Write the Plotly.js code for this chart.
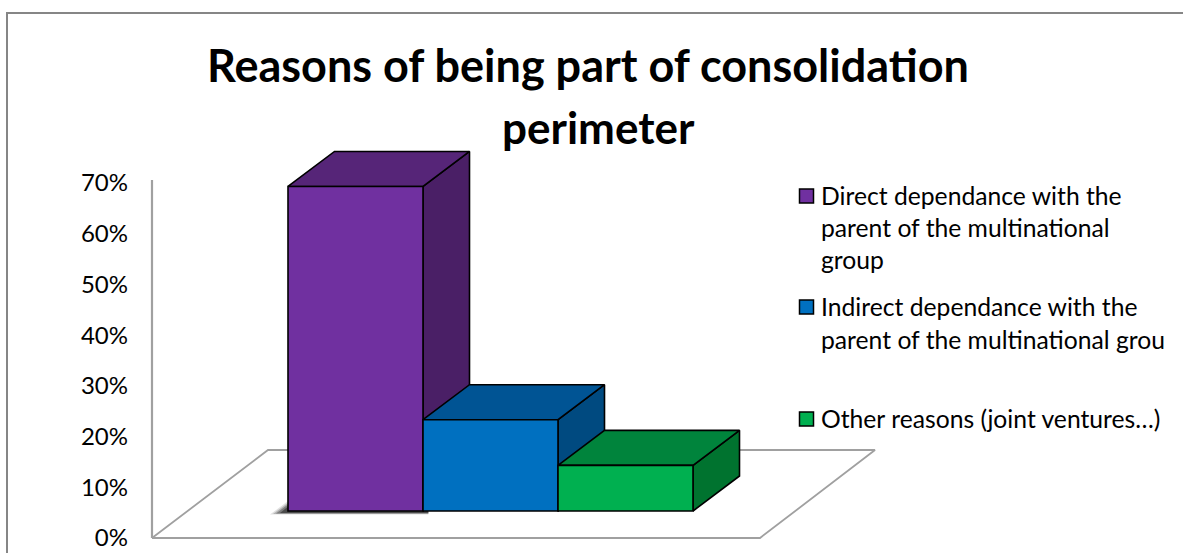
<!DOCTYPE html>
<html><head><meta charset="utf-8">
<script src="https://cdn.plot.ly/plotly-3.0.1.min.js"></script>
<style>html,body{margin:0;padding:0;background:#fff}#c{width:1183px;height:553px}</style>
</head><body><div id="c"></div>
<script>
const categories = ['Direct dependance with the parent of the multinational group','Indirect dependance with the parent of the multinational grou','Other reasons (joint ventures…)'];
const values = [64, 18, 9];
const frontColors = ['#7030A0','#0070C0','#00B050'];
const topColors = ['#562578','#005494','#00843C'];
const sideColors = ['#4A1F66','#004A80','#00732F'];
const tickVals = [0,10,20,30,40,50,60,70];
const tickText = ['0%','10%','20%','30%','40%','50%','60%','70%'];
const legendLines = [['Direct dependance with the','parent of the multinational','group'],['Indirect dependance with the','parent of the multinational grou'],['Other reasons (joint ventures…)']];
const legendLineY = [[195.5,227.5,259.5],[306.5,339.5],[418.5]];
const legendSwatchY = [196,307,419];

const W=1183,H=553;
const pxPerCat=135, pxPerPct=355/70;
const xRange=[-355.5/pxPerCat,(W-355.5)/pxPerCat];
const yRange=[-(H-538)/pxPerPct,538/pxPerPct];
const base=27/pxPerPct, dx=46.5/pxPerCat, dy=35/pxPerPct;
const hw=0.5;
const floorX=[(152-355.5)/pxPerCat,(760-355.5)/pxPerCat,(875-355.5)/pxPerCat,(268-355.5)/pxPerCat,(152-355.5)/pxPerCat];
const floorY=[0,0,88/pxPerPct,88/pxPerPct,0];
const wallX=(152-355.5)/pxPerCat;

const traces=[];
const poly=(x,y,color,lc)=>({type:'scatter',mode:'lines',x,y,fill:'toself',fillcolor:color,line:{color:lc||'#000',width:1.6},hoverinfo:'skip',showlegend:false,xaxis:'x',yaxis:'y'});
traces.push({type:'scatter',mode:'lines',x:floorX,y:floorY,line:{color:'#A0A0A0',width:1.8},hoverinfo:'skip',showlegend:false});
traces.push({type:'scatter',mode:'lines',x:[wallX,wallX],y:[0,70.6],line:{color:'#A0A0A0',width:2.2},hoverinfo:'skip',showlegend:false});
// soft shadow at the foot of the first bar
const shadow=(x,y,o)=>traces.push({type:'scatter',mode:'lines',x,y,fill:'toself',fillcolor:`rgba(0,0,0,${o})`,line:{width:0},hoverinfo:'skip',showlegend:false});
[[18,3.5,0.12],[15,3,0.2],[12,2.5,0.3],[8,2,0.4]].forEach(([w,d,o])=>{
  const l=-hw-w/pxPerCat, by=base-d/pxPerPct;
  shadow([l,hw+0.04,hw+0.04,-hw,l],[by,by,base,base+w*0.55/pxPerPct,by],o);
});
values.forEach((v,i)=>{
  const l=i-hw,r=i+hw,t=base+v,b=base;
  traces.push(poly([r,r+dx,r+dx,r,r],[b,b+dy,t+dy,t,b],sideColors[i]));
  traces.push(poly([l,r,r+dx,l+dx,l],[t,t,t+dy,t+dy,t],topColors[i]));
});
traces.push({type:'bar',x:[0,1,2],y:values,base:base,width:1,marker:{color:frontColors,line:{color:'#000',width:1.6}},hovertext:categories,xaxis:'x2',yaxis:'y2',showlegend:false});

const annotations=[];
legendLines.forEach((ls,i)=>ls.forEach((t,j)=>annotations.push({xref:'paper',yref:'paper',x:820/W,y:1-legendLineY[i][j]/H,xanchor:'left',yanchor:'middle',text:t,showarrow:false,align:'left',borderpad:0,font:{family:'Lato, "Open Sans", sans-serif',size:24.7,color:'#000'}})));
annotations.push({xref:'paper',yref:'paper',x:598/W,y:1-127/H,xanchor:'center',yanchor:'middle',text:'perimeter',showarrow:false,font:{family:'Lato, sans-serif',size:44,color:'#000',weight:700}});
const F='#868686';
const shapes=[
 {type:'line',xref:'paper',yref:'paper',x0:6/W,x1:1,y0:1-13/H,y1:1-13/H,line:{color:F,width:2},layer:'below'},
 {type:'line',xref:'paper',yref:'paper',x0:7/W,x1:7/W,y0:1-12/H,y1:0,line:{color:F,width:2},layer:'below'}
];
legendSwatchY.forEach((y,i)=>shapes.push({type:'rect',xref:'paper',yref:'paper',x0:799.5/W,x1:813.5/W,y0:1-(y-7)/H,y1:1-(y+7)/H,fillcolor:frontColors[i],line:{color:'#000',width:1.5}}));

Plotly.newPlot('c',traces,{
  width:W,height:H,margin:{l:0,r:0,t:0,b:0},paper_bgcolor:'#fff',plot_bgcolor:'rgba(0,0,0,0)',showlegend:false,
  title:{text:'Reasons of being part of consolidation',x:588/W,xref:'paper',xanchor:'center',y:1-66/H,yref:'container',yanchor:'middle',font:{family:'Lato, sans-serif',size:45,color:'#000',weight:700}},
  xaxis:{range:xRange,visible:false,fixedrange:true},
  yaxis:{range:yRange,anchor:'free',position:128/W,side:'left',tickvals:tickVals,ticktext:tickText,showgrid:false,zeroline:false,showline:false,ticks:'',ticklabelstandoff:0,tickfont:{family:'Lato, sans-serif',size:24,color:'#000'},fixedrange:true},
  xaxis2:{range:xRange,overlaying:'x',visible:false,fixedrange:true},
  yaxis2:{range:yRange,overlaying:'y',visible:false,fixedrange:true},
  bargap:0,annotations,shapes
},{displayModeBar:false,staticPlot:true});
</script></body></html>
